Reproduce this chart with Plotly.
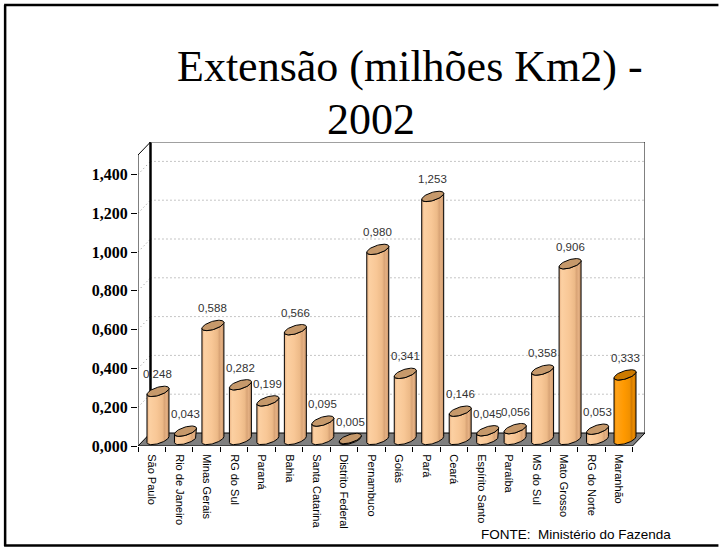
import numpy as np
import plotly.graph_objects as go

# ---------------- data ----------------
states = ["São Paulo", "Rio de Janeiro", "Minas Gerais", "RG do Sul", "Paraná",
          "Bahia", "Santa Catarina", "Distrito Federal", "Pernambuco", "Goiás",
          "Pará", "Ceará", "Espírito Santo", "Paraíba", "MS do Sul",
          "Mato Grosso", "RG do Norte", "Maranhão"]
values = [0.248, 0.043, 0.588, 0.282, 0.199, 0.566, 0.095, 0.005, 0.980, 0.341,
          1.253, 0.146, 0.045, 0.056, 0.358, 0.906, 0.053, 0.333]
highlight = ["Maranhão"]
y_ticks = [0.0, 0.2, 0.4, 0.6, 0.8, 1.0, 1.2, 1.4]
y_ticktext = [f"{v:.3f}".replace(".", ",") for v in y_ticks]
title_line1 = "Extensão (milhões Km2) -"
title_line2 = "2002"
source_text = "FONTE:&nbsp; Ministério do Fazenda"

SERIF = "Times New Roman, Liberation Serif, serif"
SANS = "Arial, Liberation Sans, sans-serif"

# ---------------- geometry / layout ----------------
W, H = 719, 547
PX_CAT = 27.5          # pixels per category
PX_VAL = 194.0         # pixels per value unit
X_FRONT_LEFT = 138     # px of front-left corner
Y_FRONT_BOTTOM = 446   # px of value 0 on front plane
DX = 12.5 / PX_CAT     # depth offset in x units
DY = 13.0 / PX_VAL     # depth offset in y units
YMAX = 1.5
n = len(states)

x_range = [-0.5, n - 0.5 + DX]
y_range = [0, YMAX + DY]
plot_w = (x_range[1] - x_range[0]) * PX_CAT
plot_h = (y_range[1] - y_range[0]) * PX_VAL
m_l = X_FRONT_LEFT
m_r = W - m_l - plot_w
m_b = H - Y_FRONT_BOTTOM
m_t = H - m_b - plot_h


def px_x(px):
    return (px - m_l) / plot_w


def px_y(py):
    return ((H - m_b) - py) / plot_h


fig = go.Figure()

# floor
fx = [-0.5, n - 0.5, n - 0.5 + DX, -0.5 + DX, -0.5]
fy = [0, 0, DY, DY, 0]
fig.add_trace(go.Scatter(x=fx, y=fy, mode="lines", fill="toself", fillcolor="#808080",
                         line=dict(color="black", width=1), hoverinfo="skip",
                         cliponaxis=False, showlegend=False))

# gridlines on back wall + diagonals on side wall
gx, gy = [], []
for v in y_ticks[1:]:
    gx += [-0.5 + DX, n - 0.5 + DX, None, -0.5, -0.5 + DX, None]
    gy += [v + DY, v + DY, None, v, v + DY, None]
fig.add_trace(go.Scatter(x=gx, y=gy, mode="lines",
                         line=dict(color="#8c8c8c", width=1, dash="1px,3px"),
                         hoverinfo="skip", cliponaxis=False, showlegend=False))

# walls edges
fig.add_trace(go.Scatter(x=[-0.5 + DX, -0.5 + DX], y=[DY, YMAX + DY], mode="lines",
                         line=dict(color="black", width=2.5), hoverinfo="skip",
                         cliponaxis=False, showlegend=False))
fig.add_trace(go.Scatter(x=[-0.5 + DX, n - 0.5 + DX], y=[YMAX + DY, YMAX + DY], mode="lines",
                         line=dict(color="#808080", width=1.5), hoverinfo="skip",
                         cliponaxis=False, showlegend=False))
fig.add_trace(go.Scatter(x=[n - 0.5 + DX, n - 0.5 + DX], y=[DY, YMAX + DY], mode="lines",
                         line=dict(color="black", width=1), hoverinfo="skip",
                         cliponaxis=False, showlegend=False))
fig.add_trace(go.Scatter(x=[-0.5, -0.5, -0.5 + DX], y=[0, YMAX, YMAX + DY], mode="lines",
                         line=dict(color="black", width=1), hoverinfo="skip",
                         cliponaxis=False, showlegend=False))

# cylinders
A = 0.4                 # half width (x units)
B = 4.2 / PX_VAL        # ellipse half height
S = 3.0 / PX_VAL        # tilt
body_scale = [[0, "#E9B283"], [0.12, "#FCD0A2"], [0.45, "#F8C796"], [0.7, "#EDBA88"],
              [0.8, "#D9A476"], [0.88, "#E5B184"], [1, "#C79366"]]
body_scale_hi = [[0, "#F08C00"], [0.12, "#FFA31A"], [0.45, "#FF9900"], [0.7, "#F29100"],
                 [0.8, "#D27A00"], [0.88, "#EB8C00"], [1, "#C97300"]]
top_col, top_col_hi = "#C6996B", "#CC7A00"


def ell(xc, yc, t):
    return xc + A * np.cos(t), yc + B * np.sin(t) + S * np.cos(t)


for i, (name, v) in enumerate(zip(states, values)):
    hi = name in highlight
    xc = i + DX / 2
    yb = DY / 2
    yt = v + DY / 2
    t1 = np.linspace(np.pi, 2 * np.pi, 40)
    t2 = np.linspace(2 * np.pi, np.pi, 40)
    tx, ty = ell(xc, yt, t1)
    bx, by = ell(xc, yb, t2)
    px = np.concatenate([tx, bx, tx[:1]])
    py = np.concatenate([ty, by, ty[:1]])
    fig.add_trace(go.Scatter(x=px, y=py, mode="lines", fill="toself",
                             fillgradient=dict(type="horizontal",
                                               colorscale=body_scale_hi if hi else body_scale),
                             line=dict(color="black", width=1), hoverinfo="skip",
                             cliponaxis=False, showlegend=False))
    tt = np.linspace(0, 2 * np.pi, 60)
    ex, ey = ell(xc, yt, tt)
    fig.add_trace(go.Scatter(x=ex, y=ey, mode="lines", fill="toself",
                             fillcolor=top_col_hi if hi else top_col,
                             line=dict(color="black", width=1), hoverinfo="skip",
                             cliponaxis=False, showlegend=False))
    fig.add_annotation(x=xc, y=yt, text=f"{v:.3f}".replace(".", ","), showarrow=False,
                       yshift=17, font=dict(family=SANS, size=11.5, color="#333333"))

# title and source
fig.add_annotation(xref="paper", yref="paper", x=px_x(175), y=px_y(66), xanchor="left",
                   yanchor="middle", text=title_line1, showarrow=False,
                   font=dict(family=SERIF, size=44, color="black"))
fig.add_annotation(xref="paper", yref="paper", x=px_x(325), y=px_y(119), xanchor="left",
                   yanchor="middle", text=title_line2, showarrow=False,
                   font=dict(family=SERIF, size=44, color="black"))
fig.add_annotation(xref="paper", yref="paper", x=px_x(479), y=px_y(534), xanchor="left",
                   yanchor="middle", text=source_text, showarrow=False,
                   font=dict(family=SANS, size=13.5, color="black"))

# outer frame
frame = dict(type="line", xref="paper", yref="paper", line=dict(color="black", width=2.5))
fig.add_shape(**frame, x0=px_x(5), x1=px_x(5), y0=px_y(5), y1=px_y(546))
fig.add_shape(**frame, x0=px_x(4), x1=px_x(719), y0=px_y(5), y1=px_y(5))
fig.add_shape(**frame, x0=px_x(4), x1=px_x(719), y0=px_y(545.5), y1=px_y(545.5))

fig.update_layout(
    width=W, height=H,
    margin=dict(l=m_l, r=m_r, t=m_t, b=m_b, autoexpand=False),
    paper_bgcolor="white", plot_bgcolor="rgba(0,0,0,0)",
    showlegend=False,
    font=dict(family=SANS),
    xaxis=dict(range=x_range, showgrid=False, zeroline=False, showline=False,
               tickmode="array", tickvals=list(range(n)), ticktext=states,
               tickangle=90, ticks="outside", ticklen=5, tickcolor="rgba(0,0,0,0)",
               tickfont=dict(family=SANS, size=11, color="black"),
               minor=dict(tickmode="linear", tick0=-0.5, dtick=1, ticks="outside",
                          ticklen=5, tickcolor="black", tickwidth=1, showgrid=False),
               fixedrange=True),
    yaxis=dict(range=y_range, showgrid=False, zeroline=False, showline=False,
               tickmode="array", tickvals=y_ticks, ticktext=y_ticktext,
               ticks="outside", ticklen=6, tickcolor="black", tickwidth=1,
               tickfont=dict(family=SERIF, size=16, color="black", weight="bold"),
               fixedrange=True),
)

fig.write_html("out.html")
